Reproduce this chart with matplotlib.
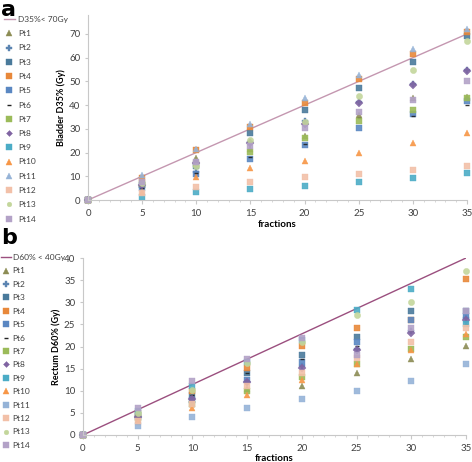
import numpy as np
import matplotlib
matplotlib.use('Agg')
import matplotlib.pyplot as plt
from matplotlib.lines import Line2D

plt.rcParams['font.family'] = ['Lato', 'DejaVu Sans']

fractions = [0, 5, 10, 15, 20, 25, 30, 35]
patients = ['Pt1', 'Pt2', 'Pt3', 'Pt4', 'Pt5', 'Pt6', 'Pt7',
            'Pt8', 'Pt9', 'Pt10', 'Pt11', 'Pt12', 'Pt13', 'Pt14']

# bladder D35% (Gy)
bladder = [
    [0, 6.8, 17.8, 21.5, 27.0, 35.7, 43.0, 43.5],
    [0, 5.5, 11.9, 24.5, 33.5, 41.5, 48.8, 55.0],
    [0, 6.5, 14.5, 28.1, 38.1, 47.1, 58.1, 69.0],
    [0, 9.4, 20.9, 30.9, 40.9, 51.1, 61.5, 71.0],
    [0, 5.2, 11.1, 17.2, 23.3, 30.4, 36.1, 41.9],
    [0, 5.0, 11.5, 18.3, 23.7, 34.5, 35.3, 40.1],
    [0, 6.8, 15.0, 20.2, 26.2, 33.2, 38.1, 42.9],
    [0, 6.2, 15.5, 24.0, 32.0, 40.8, 48.3, 54.5],
    [0, 1.4, 3.5, 4.5, 6.1, 7.6, 9.4, 11.3],
    [0, 3.5, 9.9, 13.7, 16.4, 19.9, 24.0, 28.1],
    [0, 10.5, 21.5, 32.2, 43.0, 52.8, 63.8, 72.3],
    [0, 2.8, 5.4, 7.6, 9.7, 10.9, 12.6, 14.4],
    [0, 7.0, 14.5, 25.1, 32.9, 44.0, 55.0, 67.0],
    [0, 7.8, 16.2, 22.6, 30.4, 37.0, 42.2, 50.2],
]

# rectum D60% (Gy)
rectum = [
    [0, 3.5, 7.0, 10.5, 11.0, 14.1, 17.1, 20.2],
    [0, 4.0, 7.5, 12.0, 15.5, 19.5, 23.5, 26.5],
    [0, 4.5, 9.0, 14.0, 18.1, 22.1, 28.1, 28.1],
    [0, 5.0, 10.0, 15.1, 20.1, 24.1, 26.1, 35.2],
    [0, 4.0, 8.0, 12.5, 16.5, 21.0, 26.0, 27.0],
    [0, 4.2, 9.0, 14.1, 17.1, 20.2, 23.5, 25.0],
    [0, 3.8, 7.0, 10.0, 13.1, 16.1, 19.5, 22.1],
    [0, 4.0, 8.1, 12.0, 15.1, 19.1, 23.1, 26.1],
    [0, 5.5, 11.1, 16.5, 21.5, 28.2, 33.1, 25.1],
    [0, 3.0, 6.0, 9.0, 12.5, 16.1, 19.1, 22.9],
    [0, 2.1, 4.1, 6.0, 8.1, 10.0, 12.2, 16.1],
    [0, 3.2, 6.9, 11.1, 14.1, 17.5, 21.1, 24.1],
    [0, 4.9, 10.2, 16.2, 21.0, 27.2, 30.0, 37.1],
    [0, 6.0, 12.1, 17.1, 22.0, 18.1, 24.1, 28.1],
]

limit_a = [0, 70]
limit_b = [0, 40]

colors = ['#8c8c54', '#5b84b1', '#4a7a9b', '#e8883a', '#5a87c2', '#222222', '#9bbb59',
          '#8064a2', '#4bacc6', '#f79646', '#95b3d7', '#f2c0a8', '#c3d69b', '#b3a2c7']
markers_a = ['^', 'P', 's', 's', 's', '_', 's', 'D', 's', '^', '^', 's', 'o', 's']
markers_b = ['^', 'P', 's', 's', 's', '_', 's', 'D', 's', '^', 's', 's', 'o', 's']
sizes = [5, 5, 5, 5, 5, 3, 5, 4, 5, 5, 5, 5, 4.5, 5]

W, H = 472, 462
fig = plt.figure(figsize=(W / 100, H / 100), dpi=100)

def px_axes(x0, y0, x1, y1):
    return fig.add_axes([x0 / W, 1 - y1 / H, (x1 - x0) / W, (y1 - y0) / H])

def style(ax, ymax, ystep):
    for s in ['top', 'right']:
        ax.spines[s].set_visible(False)
    for s in ['left', 'bottom']:
        ax.spines[s].set_color('#c8c8c8')
        ax.spines[s].set_linewidth(0.8)
    ax.set_xlim(0, 35)
    ax.set_ylim(0, ymax)
    ax.set_xticks(fractions)
    ax.set_xticks(np.arange(0, 36, 1), minor=True)
    ax.set_yticks(np.arange(0, ymax + 0.1, ystep))
    ax.tick_params(colors='#c8c8c8', labelcolor='#404040', labelsize=7, length=3, width=0.8)
    ax.tick_params(which='minor', colors='#c8c8c8', length=1.5, width=0.5)
    ax.tick_params(axis='y', length=2)
    ax.set_xlabel('fractions', fontsize=7, fontweight='bold')
    ax.xaxis.set_label_coords(0.5, -0.11)

def panel(ax, data, markers, limit, lcolor):
    handles = [Line2D([], [], color=lcolor, lw=1.0)]
    ax.plot([0, 35], limit, color=lcolor, lw=1.0, zorder=1)
    for i, name in enumerate(patients):
        mew = 1.0 if markers[i] == '_' else 0.3
        ax.plot(fractions, data[i], ls='none', marker=markers[i], ms=sizes[i],
                color=colors[i], mec=colors[i], mew=mew,
                alpha=0.9, clip_on=False, zorder=2)
        handles.append(Line2D([], [], ls='none', marker=markers[i], ms=sizes[i] * 0.75,
                              color=colors[i], mec=colors[i], mew=mew))
    return handles

# panel a
ax1 = px_axes(88, 15, 467, 200)
style(ax1, 78, 10)
ax1.set_ylabel('Bladder D35% (Gy)', fontsize=6.5, fontweight='bold', labelpad=2)
h1 = panel(ax1, bladder, markers_a, limit_a, '#c497b0')
fig.legend(h1, ['D35%< 70Gy'] + patients, loc='upper left',
           bbox_to_anchor=(4 / W, 1 - 16 / H), frameon=False, fontsize=6,
           handlelength=1.3, handletextpad=0.4, labelspacing=0.87,
           borderaxespad=0, borderpad=0, labelcolor='#404040')
fig.text(1 / W, 1 - 0 / H, 'a', fontsize=16, fontweight='bold', va='top', ha='left',
         family='DejaVu Sans')

# panel b
ax2 = px_axes(83, 258, 466, 435)
style(ax2, 40, 5)
ax2.set_ylabel('Rectum D60% (Gy)', fontsize=6.5, fontweight='bold', labelpad=2)
h2 = panel(ax2, rectum, markers_b, limit_b, '#9b4f7f')
fig.legend(h2, ['D60% < 40Gy'] + patients, loc='upper left',
           bbox_to_anchor=(1 / W, 1 - 254 / H), frameon=False, fontsize=6,
           handlelength=1.2, handletextpad=0.2, labelspacing=0.77,
           borderaxespad=0, borderpad=0, labelcolor='#404040')
fig.text(1 / W, 1 - 228 / H, 'b', fontsize=16, fontweight='bold', va='top', ha='left',
         family='DejaVu Sans')

fig.savefig('out.png', dpi=100)
